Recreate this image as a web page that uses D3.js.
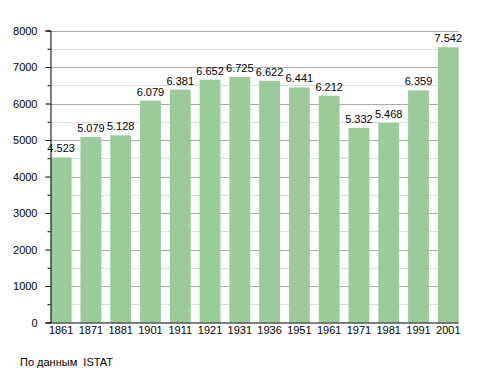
<!DOCTYPE html>
<html><head><meta charset="utf-8">
<script src="https://cdn.jsdelivr.net/npm/d3@7"></script>
<style>
body{margin:0;background:#fff;}
text{font-family:"Liberation Sans",Arial,sans-serif;}
</style></head>
<body><svg id="c" width="488" height="373"></svg>
<script>
const years = ["1861","1871","1881","1901","1911","1921","1931","1936","1951","1961","1971","1981","1991","2001"];
const population = [4523,5079,5128,6079,6381,6652,6725,6622,6441,6212,5332,5468,6359,7542];
const yTicks = [0,1000,2000,3000,4000,5000,6000,7000,8000];
const minorTicks = [500,1500,2500,3500,4500,5500,6500,7500];
const source = "По данным  ISTAT";

const svg = d3.select("#c");
const x = d3.scaleBand().domain(years).range([50.7, 458.7]).paddingInner(0.3).paddingOuter(0);
const y = d3.scaleLinear().domain([0,8000]).range([322.5, 30.5]);
const fmt = v => d3.format(",")(v).replace(",", ".");

// grid
svg.append("g").selectAll("line").data(minorTicks).join("line")
  .attr("x1",50).attr("x2",458.7).attr("y1",d=>Math.round(y(d))+0.5).attr("y2",d=>Math.round(y(d))+0.5)
  .attr("stroke","#dddddd").attr("stroke-width",1);
svg.append("g").selectAll("line").data(yTicks.slice(1)).join("line")
  .attr("x1",50).attr("x2",458.7).attr("y1",d=>Math.round(y(d))+0.5).attr("y2",d=>Math.round(y(d))+0.5)
  .attr("stroke","#aaaaaa").attr("stroke-width",1);

// bars
svg.append("g").selectAll("rect").data(population).join("rect")
  .attr("x",(d,i)=>x(years[i])).attr("width",x.bandwidth())
  .attr("y",d=>y(d)).attr("height",d=>y(0)-y(d))
  .attr("fill","#99cc99");

// value labels
svg.append("g").selectAll("text").data(population).join("text")
  .attr("x",(d,i)=>x(years[i])+x.bandwidth()/2).attr("y",d=>y(d)-5)
  .attr("text-anchor","middle").attr("font-size",11).attr("fill","#000")
  .text(d=>fmt(d));

// y axis
const yAxis = d3.axisLeft(y).tickValues(yTicks).tickSize(5).tickFormat(d=>d);
const gy = svg.append("g").attr("transform","translate(50.5,0)").call(yAxis);
gy.select(".domain").attr("stroke","#000");
gy.selectAll(".tick text").attr("font-size",11).attr("font-family","Liberation Sans, Arial, sans-serif").attr("x",-13);
const gm = svg.append("g").attr("transform","translate(50.5,0)")
  .call(d3.axisLeft(y).tickValues(minorTicks).tickSize(3).tickFormat(""));
gm.select(".domain").remove();

// x axis
const gx = svg.append("g").attr("transform","translate(0,322.5)")
  .call(d3.axisBottom(x).tickSize(0).tickPadding(4));
gx.select(".domain").attr("stroke","#000").attr("d","M50,0.5H458.7");
gx.selectAll(".tick text").attr("font-size",11).attr("font-family","Liberation Sans, Arial, sans-serif");

svg.append("text").attr("x",20).attr("y",366).attr("font-size",11)
  .style("white-space","pre").attr("xml:space","preserve").text(source);
</script></body></html>
